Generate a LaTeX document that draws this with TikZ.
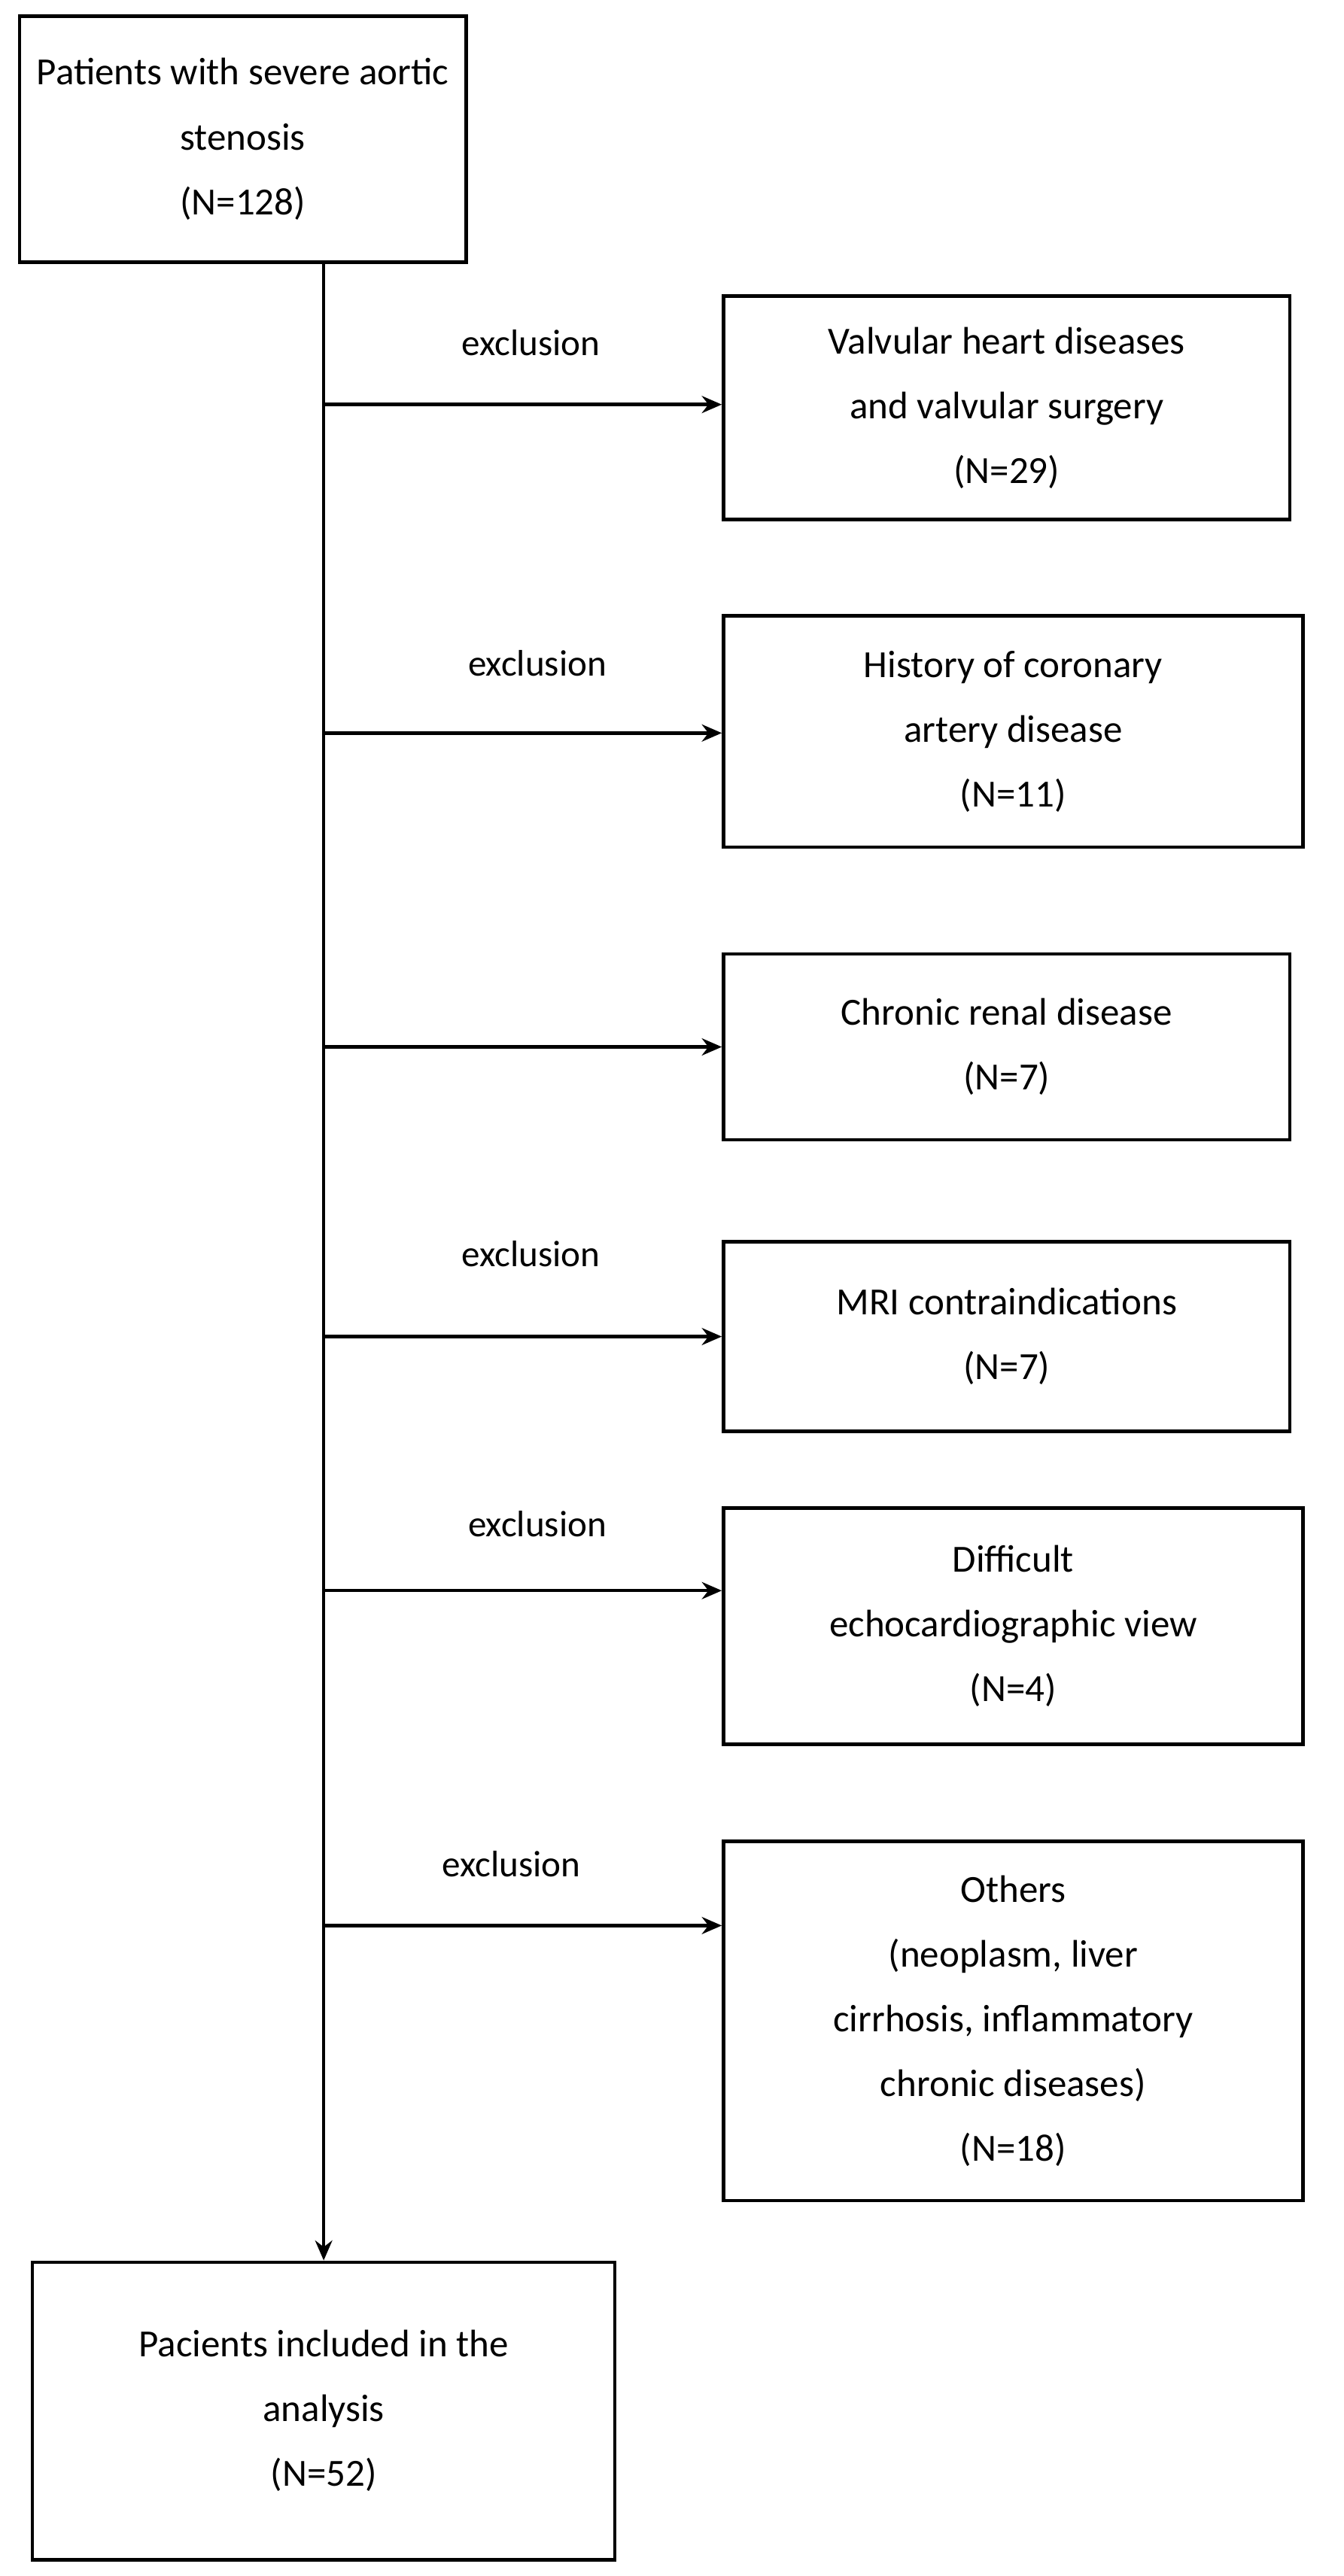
\documentclass[tikz,border=0pt]{standalone}
\usepackage{fontspec}
\setmainfont{Carlito}
\usetikzlibrary{arrows.meta, positioning}

\begin{document}
\begin{tikzpicture}[
        x=0.02cm, y=-0.02cm,
        >={Stealth[length=7pt, width=6pt]},
        flowbox/.style={rectangle, draw, line width=1.2pt, align=center, inner sep=2pt,
                font=\fontsize{13.5}{22.8}\selectfont},
        arrow/.style={->, line width=1.2pt},
        exlab/.style={font=\fontsize{13}{16}\selectfont}, ]

        \useasboundingbox (0,0) rectangle (830,1592);

        % === MAIN BOXES ===
        \node[flowbox, minimum width=5.52cm, minimum height=3.04cm] (start) at (150,86)
                {Patients with severe aortic\\stenosis\\(N=128)};
        \node[flowbox, minimum width=7.2cm, minimum height=3.68cm] (final) at (200,1490)
                {Pacients included in the\\analysis\\(N=52)};

        % === EXCLUSION BOXES ===
        \node[flowbox, minimum width=7cm, minimum height=2.76cm] (valv) at (622,252)
                {Valvular heart diseases\\and valvular surgery\\(N=29)};
        \node[flowbox, minimum width=7.16cm, minimum height=2.86cm] (coron) at (626,452)
                {History of coronary\\artery disease\\(N=11)};
        \node[flowbox, minimum width=7cm, minimum height=2.3cm] (renal) at (622,647)
                {Chronic renal disease\\(N=7)};
        \node[flowbox, minimum width=7cm, minimum height=2.34cm] (mri) at (622,826)
                {MRI contraindications\\(N=7)};
        \node[flowbox, minimum width=7.16cm, minimum height=2.92cm] (echo) at (626,1005)
                {Difficult\\echocardiographic view\\(N=4)};
        \node[flowbox, minimum width=7.16cm, minimum height=4.44cm] (others) at (626,1249)
                {Others\\(neoplasm, liver\\cirrhosis, inflammatory\\chronic diseases)\\(N=18)};

        % === SPINE ===
        \coordinate (spine_top) at (200,162);
        \draw[arrow] (spine_top) -- (spine_top |- final.north);

        \foreach \target/\yy in {valv/250, coron/453, renal/647, mri/826, echo/983, others/1190} {
                \coordinate (tap_\target) at (200,\yy);
                \draw[arrow] (tap_\target) -- (tap_\target -| \target.west);
            }

        % exclusion labels
        \node[exlab] (lab1) at (328,212) {exclusion};
        \node[exlab] (lab2) at (332,410) {exclusion};
        \node[exlab] (lab4) at (328,775) {exclusion};
        \node[exlab] (lab5) at (332,942) {exclusion};
        \node[exlab] (lab6) at (316,1152) {exclusion};
    \end{tikzpicture}
\end{document}
